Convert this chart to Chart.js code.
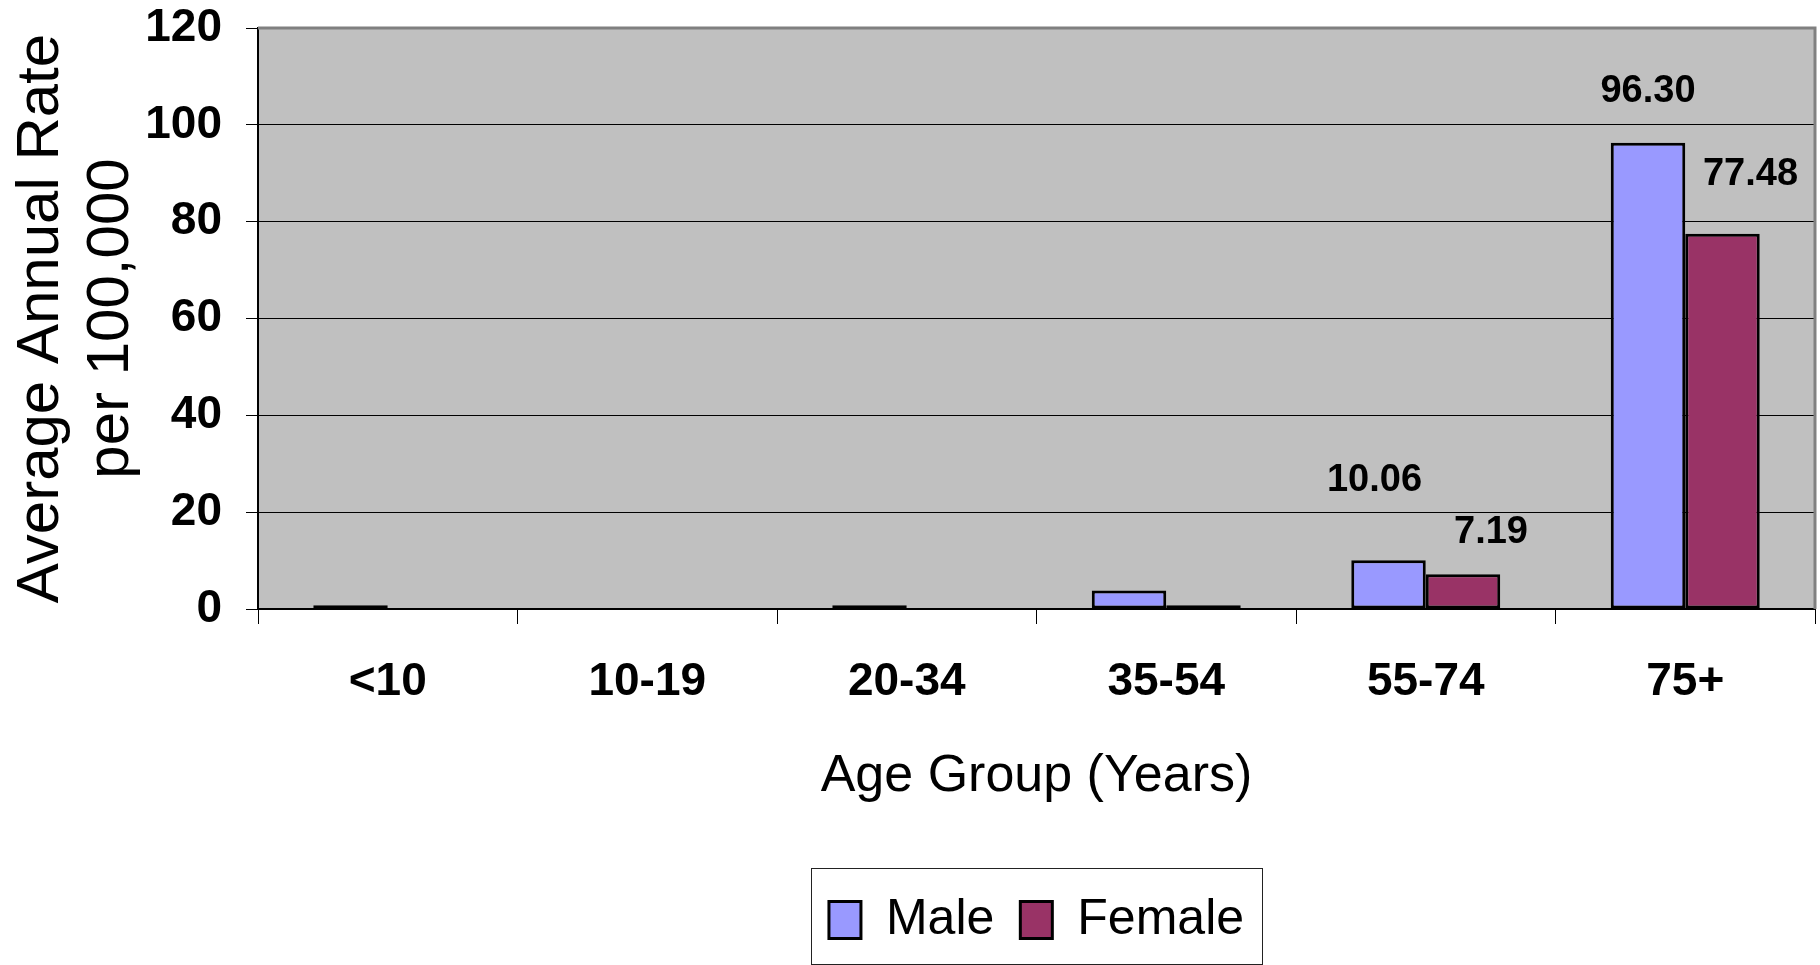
<!DOCTYPE html>
<html>
<head>
<meta charset="utf-8">
<title>Average Annual Rate by Age Group</title>
<script src="https://cdn.jsdelivr.net/npm/chart.js@4/dist/chart.umd.min.js"></script>
<style>
  html, body { margin: 0; padding: 0; background: #ffffff; }
  #wrap { width: 1820px; height: 965px; }
</style>
</head>
<body>
<div id="wrap"><canvas id="chart-age-rate" width="1820" height="965"></canvas></div>
<script>
// 연령대별 연평균 발생률 (인구 10만명당)

const AGE_GROUPS = ["<10", "10-19", "20-34", "35-54", "55-74", "75+"];
const MALE_RATES = [0.8, 0, 0.8, 3.8, 10.06, 96.3];
const FEMALE_RATES = [0, 0, 0, 0.8, 7.19, 77.48];
const Y_TICKS = [0, 20, 40, 60, 80, 100, 120];
// 값 라벨이 붙은 연령대
const LABELED_GROUPS = ["55-74", "75+"];

const NARROW = '"Liberation Sans Narrow", "Arial Narrow", "Liberation Sans", Arial, sans-serif';
const REGULAR = '"Liberation Sans", Arial, sans-serif';

// 플롯 영역 회색 배경 + 테두리
const plotFrame = {
  id: "plotFrame",
  beforeDraw(chart) {
    const { ctx, chartArea: a } = chart;
    ctx.save();
    ctx.fillStyle = "#c0c0c0";
    ctx.fillRect(a.left, a.top, a.right - a.left, a.bottom - a.top);
    ctx.restore();
  },
  afterDatasetsDraw(chart) {
    const { ctx, chartArea: a } = chart;
    ctx.save();
    ctx.strokeStyle = "#808080";
    ctx.lineWidth = 3;
    ctx.beginPath();
    ctx.moveTo(a.left, a.top);
    ctx.lineTo(a.right, a.top);
    ctx.lineTo(a.right, a.bottom);
    ctx.stroke();
    ctx.restore();
  },
};

// 막대 위 값 라벨
const barLabels = {
  id: "barLabels",
  afterDatasetsDraw(chart, args, opts) {
    const { ctx } = chart;
    ctx.save();
    ctx.font = `bold ${opts.size}px ${NARROW}`;
    ctx.fillStyle = "#000";
    ctx.textAlign = "center";
    ctx.textBaseline = "middle";
    chart.data.datasets.forEach((ds, di) => {
      const meta = chart.getDatasetMeta(di);
      const offsets = opts.offsets[di] || {};
      LABELED_GROUPS.forEach((group) => {
        const idx = chart.data.labels.indexOf(group);
        const bar = meta.data[idx];
        if (!bar) return;
        const [dx, dy] = offsets[group] || [0, -30];
        ctx.fillText(ds.data[idx].toFixed(2), bar.x + dx, bar.y + dy);
      });
    });
    ctx.restore();
  },
};

// 범례 테두리
const legendFrame = {
  id: "legendFrame",
  afterDraw(chart) {
    const boxes = chart.legend && chart.legend.legendHitBoxes;
    if (!boxes || !boxes.length) return;
    const first = boxes[0];
    const last = boxes[boxes.length - 1];
    const left = Math.round(first.left - 18);
    const right = Math.round(last.left + last.width + 18);
    const top = Math.round(first.top - 27);
    const bottom = chart.height - 1;
    const { ctx } = chart;
    ctx.save();
    ctx.strokeStyle = "#222";
    ctx.lineWidth = 1;
    ctx.strokeRect(left + 0.5, top + 0.5, right - left, bottom - top);
    ctx.restore();
  },
};

function renderChart() {
  const ctx = document.getElementById("chart-age-rate").getContext("2d");

  new Chart(ctx, {
    type: "bar",
    data: {
      labels: AGE_GROUPS,
      datasets: [
        {
          label: "Male",
          data: MALE_RATES,
          backgroundColor: "#9999ff",
          borderColor: "#000",
          borderWidth: 3,
          borderSkipped: false,
        },
        {
          label: "Female",
          data: FEMALE_RATES,
          backgroundColor: "#993366",
          borderColor: "#000",
          borderWidth: 3,
          borderSkipped: false,
        },
      ],
    },
    options: {
      responsive: false,
      animation: false,
      categoryPercentage: 0.574,
      barPercentage: 1.0,
      layout: { padding: { left: 0, right: 5, top: 28, bottom: 10 } },
      scales: {
        x: {
          afterFit(scale) {
            scale.height = 260;
          },
          grid: {
            offset: true,
            drawOnChartArea: false,
            drawTicks: true,
            tickLength: 15,
            color: "#000",
          },
          border: { display: true, color: "#000", width: 2 },
          ticks: {
            color: "#000",
            padding: 31,
            font: { family: NARROW, size: 46, weight: "bold" },
          },
          title: {
            display: true,
            text: "Age Group (Years)",
            color: "#000",
            font: { family: REGULAR, size: 52, weight: "normal" },
            padding: { top: 0, bottom: 61 },
          },
        },
        y: {
          min: 0,
          max: 120,
          afterFit(scale) {
            scale.width = 258;
            scale.paddingTop = 0;
            scale.paddingBottom = 0;
          },
          afterBuildTicks(scale) {
            scale.ticks = Y_TICKS.map((v) => ({ value: v }));
          },
          grid: {
            color: "#000",
            lineWidth: 1,
            drawTicks: true,
            tickLength: 12,
          },
          border: { display: true, color: "#000", width: 2 },
          ticks: {
            color: "#000",
            padding: 24,
            font: { family: NARROW, size: 46, weight: "bold" },
          },
          title: {
            display: true,
            text: ["Average Annual Rate", "per 100,000"],
            color: "#000",
            font: { family: REGULAR, size: 60, weight: "normal", lineHeight: 70 / 60 },
            padding: { top: 6, bottom: 0 },
          },
        },
      },
      plugins: {
        legend: {
          position: "bottom",
          fullSize: false,
          labels: {
            color: "#000",
            boxWidth: 32,
            boxHeight: 37,
            padding: 26,
            font: { family: REGULAR, size: 50 },
          },
        },
        tooltip: { enabled: false },
        barLabels: {
          size: 38,
          offsets: [
            { "55-74": [-14, -80], "75+": [0, -51] },
            { "55-74": [28, -42], "75+": [28, -59] },
          ],
        },
      },
    },
    plugins: [plotFrame, barLabels, legendFrame],
  });
}

document.addEventListener("DOMContentLoaded", renderChart);
</script>
</body>
</html>
